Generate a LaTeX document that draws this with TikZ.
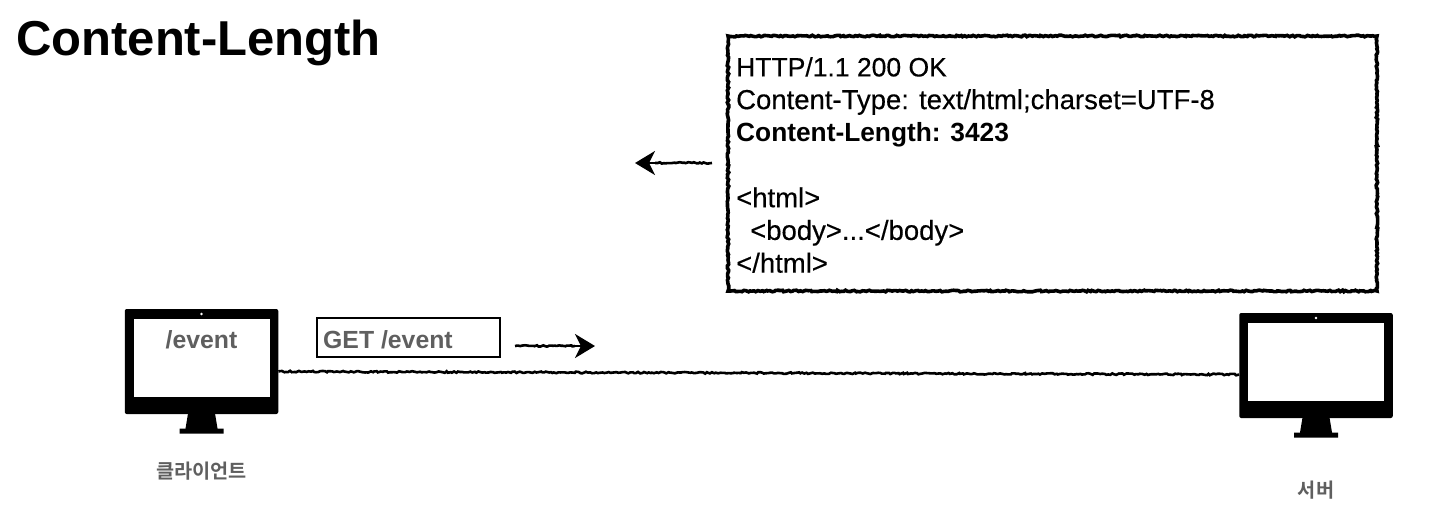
\documentclass[tikz,border=0pt]{standalone}
\usepackage{fontspec}
\setmainfont{Liberation Sans}
\newfontfamily\medfont{Liberation Sans}[FakeBold=0.35]
\newfontfamily\krfont{Noto Sans CJK KR}[BoldFont={* Bold}]
\usetikzlibrary{arrows.meta,decorations.pathmorphing}
\definecolor{httpgrey}{HTML}{5F5F5F}
\tikzset{
  sketch/.style={line width=2.6pt, color=black, decorate, decoration={random steps, segment length=2pt, amplitude=0.8pt}},
  headarr/.style={line width=2.6pt, color=black, -{Stealth[length=20pt, width=24pt, inset=6pt]}},
  body/.style={fill=black, rounded corners=2pt, minimum width=153.5pt, minimum height=105pt, inner sep=0pt},
  screen/.style={fill=white, minimum width=136pt, minimum height=77.5pt, inner sep=0pt},
  cam/.style={circle, fill=white, minimum size=2.6pt, inner sep=0pt},
  graylbl/.style={color=httpgrey, font=\fontsize{24.8}{28}\selectfont\bfseries, inner sep=0pt},
  krlbl/.style={color=httpgrey, font=\fontsize{19.7}{22}\selectfont\krfont\bfseries, inner sep=0pt},
  resp/.style={sketch, line width=3.6pt},
}
\begin{document}
\begin{tikzpicture}[x=1pt, y=-1pt]
  \useasboundingbox (0,0) rectangle (1438,528);
  \node[anchor=west, inner sep=0pt, font=\fontsize{49}{56}\selectfont\bfseries] (title) at (16,43) {Content-Length};
  % monitors
  \foreach \nm/\mx/\my in {client/201.5/361.5,server/1316/365.5} {
    \node[body] (\nm) at (\mx,\my) {};
    \node[screen] (\nm screen) at (\mx,\my-3.5) {};
    \node[cam] (\nm cam) at (\mx,\my-47.5) {};
    \fill (\mx-13.5,\my+52) -- (\mx+13.5,\my+52) -- (\mx+16,\my+67) -- (\mx+22,\my+67) -- (\mx+22,\my+72)
      -- (\mx-22,\my+72) -- (\mx-22,\my+67) -- (\mx-16,\my+67) -- cycle;
  }
  \node[graylbl] (path) at (201.5,340) {/event};
  \node[krlbl] (clientlbl) at (201.5,471) {클라이언트};
  \node[krlbl] (serverlbl) at (1316,490) {서버};
  \draw[sketch] ([yshift=-10pt]client.east) -- ([yshift=-9pt]server.west);
  % request
  \node[draw=black, line width=1.3pt, minimum width=183pt, minimum height=39pt, inner sep=0pt] (req) at (408.5,337.5) {};
  \node[graylbl, anchor=west] (reqtxt) at (323,339.5) {GET /event};
  \coordinate (reqa) at (515,346);
  \coordinate (reqm) at (575,346);
  \coordinate (reqb) at (595,346);
  \draw[sketch] (reqa) -- (reqm);
  \draw[headarr] (reqm) -- (reqb);
  % response
  \node[resp, draw, minimum width=649pt, minimum height=255pt, inner sep=0pt] (res) at (1052.5,163.5) {};
  \node[anchor=north west, align=left, inner sep=0pt, font=\fontsize{27.5}{32.7}\medfont] (restxt) at (736,57) {{\fontsize{26.5}{32.7}\selectfont HTTP/1.1 200 OK}\\
    Content-Type: text/html;charset=UTF-8\\
    {\fontsize{26.3}{32.7}\selectfont\normalfont\bfseries Content-Length: 3423}\\
    \mbox{}\\
    <html>\\
    \hspace*{14pt}<body>...</body>\\
    </html>};
  \coordinate (resa) at (712,163);
  \coordinate (resm) at (655,163);
  \coordinate (resb) at (635,163);
  \draw[sketch] (resa) -- (resm);
  \draw[headarr] (resm) -- (resb);
\end{tikzpicture}
\end{document}
